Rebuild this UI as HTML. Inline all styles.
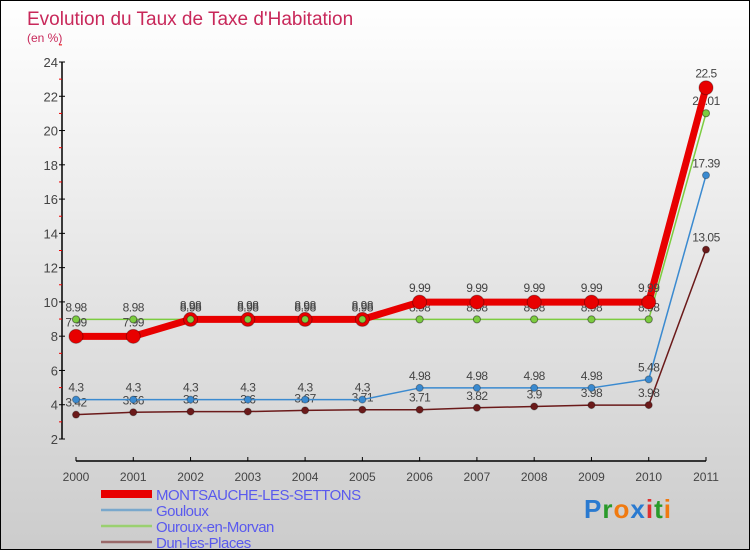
<!DOCTYPE html>
<html><head><meta charset="utf-8"><style>
body{margin:0}
#c{width:750px;height:550px;position:relative;box-sizing:border-box;border:1px solid #000;background:linear-gradient(#fff,#ccc);font-family:"Liberation Sans",sans-serif;overflow:hidden}
svg text{font-family:"Liberation Sans",sans-serif}
</style></head><body>
<div id="c">
<svg id="s" width="750" height="550"></svg>
</div>
<script>
const years=[2000,2001,2002,2003,2004,2005,2006,2007,2008,2009,2010,2011];
const montsauche=[7.99,7.99,8.98,8.98,8.98,8.98,9.99,9.99,9.99,9.99,9.99,22.5];
const gouloux=[4.3,4.3,4.3,4.3,4.3,4.3,4.98,4.98,4.98,4.98,5.48,17.39];
const ouroux=[8.98,8.98,8.98,8.98,8.98,8.98,8.98,8.98,8.98,8.98,8.98,21.01];
const dun=[3.42,3.56,3.6,3.6,3.67,3.71,3.71,3.82,3.9,3.98,3.98,13.05];
const yTicks=[2,4,6,8,10,12,14,16,18,20,22,24];
const NS='http://www.w3.org/2000/svg',s=document.getElementById('s');
function X(i){return 75+i*(705-75)/(years.length-1);}
function Y(v){return 438-(v-2)*(438-61)/22;}
function el(t,a,txt){const e=document.createElementNS(NS,t);for(const k in a)e.setAttribute(k,a[k]);if(txt!==undefined)e.textContent=txt;s.appendChild(e);return e;}
let e;
e=el('text',{x:26,y:24,'font-size':19,fill:'#c8285a'},'Evolution du Taux de Taxe d\'Habitation');


e=el('text',{x:26,y:41,'font-size':12,fill:'#c8285a'},'(en %)');


e=el('line',{x1:61,y1:61,x2:61,y2:438,stroke:'#000','stroke-width':1.5});


yTicks.forEach(v=>{
 e=el('line',{x1:58,y1:Y(v),x2:64,y2:Y(v),stroke:'#000'});
 
 
 e=el('line',{x1:58,y1:Y(v+1),x2:61,y2:Y(v+1),stroke:'#e00'});
 
 
 e=el('text',{x:57,y:Y(v)+5,'font-size':13,fill:'#444','text-anchor':'end'},v);
 
 
});
e=el('line',{x1:75,y1:460,x2:705,y2:460,stroke:'#000','stroke-width':1.5});


years.forEach((y,i)=>{
 e=el('line',{x1:X(i),y1:456,x2:X(i),y2:460,stroke:'#000'});
 
 
 e=el('text',{x:X(i),y:480,'font-size':12,fill:'#444','text-anchor':'middle'},y);
 
 
});
function series(d,color,w,r,name,dy){
 e=el('polyline',{points:d.map((v,i)=>X(i)+','+Y(v)).join(' '),fill:'none',stroke:color,'stroke-width':w,'stroke-linejoin':'round'});
 
 
 d.forEach((v,i)=>{
  e=el('circle',{cx:X(i),cy:Y(v),r:r,fill:color,stroke:'rgba(0,0,0,0.3)'});
  
  
  e=el('text',{x:X(i),y:Y(v)+dy,'font-size':12,fill:'#444','text-anchor':'middle','letter-spacing':'-0.5'},v);
  
  
 });
}
series(dun,'#6b1a1a',1.5,3.5,'dun-les-places',-8);
series(gouloux,'#3a8ad0',1.5,3.5,'gouloux',-8);
series(ouroux,'#7ccc40',1.5,3.5,'ouroux-en-morvan',-8);
series(montsauche,'#e80000',7,7,'montsauche',-10);
ouroux.forEach((v,i)=>{e=el('circle',{cx:X(i),cy:Y(v),r:3.5,fill:'#7ccc40',stroke:'rgba(0,0,0,0.3)'});
 
 });
const leg=[['MONTSAUCHE-LES-SETTONS','#e80000',8],['Gouloux','#7aa8cc',2.5],['Ouroux-en-Morvan','#9ad070',2.5],['Dun-les-Places','#9a6a6a',2.5]];
leg.forEach((l,i)=>{
 const y=493+i*16;
 e=el('line',{x1:100,y1:y,x2:151,y2:y,stroke:l[1],'stroke-width':l[2]});
 
 
 e=el('text',{x:155,y:y+6,'font-size':15,fill:'#5a5aee','letter-spacing':'-0.5'},l[0]);
 
 
});
e=el('text',{x:583,y:517,'font-size':26,'font-weight':'bold','letter-spacing':'1'});


[['P','#2a7ad0'],['r','#2a9a2a'],['o','#f07a10'],['x','#2a7ad0'],['i','#e03030'],['t','#2a9a2a'],['i','#f07a10']].forEach(p=>{const t=document.createElementNS(NS,'tspan');t.setAttribute('fill',p[1]);t.textContent=p[0];e.appendChild(t);});
</script>
</body></html>
